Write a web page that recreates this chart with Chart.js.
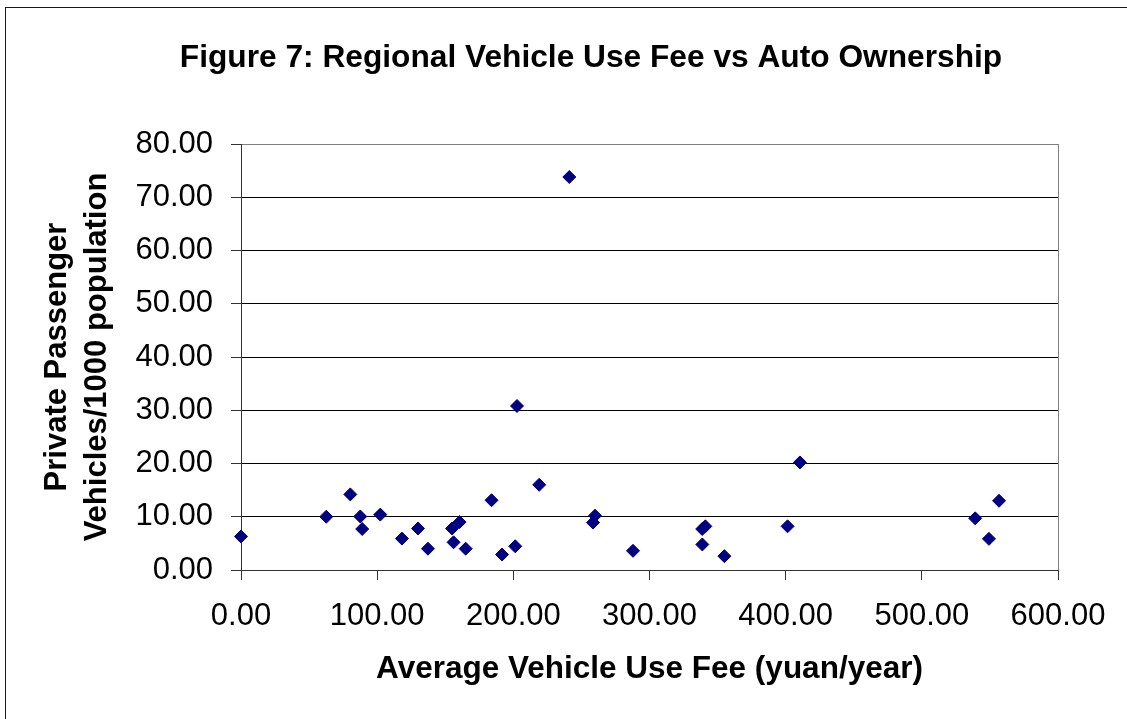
<!DOCTYPE html>
<html>
<head>
<meta charset="utf-8">
<script src="https://cdn.jsdelivr.net/npm/chart.js@4.4.1/dist/chart.umd.min.js"></script>
<style>
  html, body { margin: 0; padding: 0; background: #fff; }
  #c { display: block; }
</style>
</head>
<body>
<canvas id="c" width="1127" height="719"></canvas>
<script>
// ---- Data ----
const feeX = [0, 62.6, 80.3, 87.6, 89.0, 102.3, 118.2, 130, 137.3, 155, 160.5, 156.1, 165, 184, 191.7,
              202.7, 219, 201.4, 260, 258.5, 287.9, 338.7, 341, 338.8, 355, 401.4, 410.5, 539.2, 556.7, 549.3, 241.1];
const vehY = [6.3, 10.0, 14.2, 10.05, 7.7, 10.4, 5.9, 7.8, 4.0, 7.8, 9.0, 5.2, 4.0, 13.1, 2.9,
              30.8, 16.0, 4.45, 10.2, 8.9, 3.6, 7.7, 8.2, 4.8, 2.6, 8.2, 20.2, 9.7, 13.0, 5.85, 73.8];
const xTicks = [0, 100, 200, 300, 400, 500, 600];
const yTicks = [0, 10, 20, 30, 40, 50, 60, 70, 80];
const chartTitle = 'Figure 7: Regional Vehicle Use Fee vs Auto Ownership';
const xTitle = 'Average Vehicle Use Fee (yuan/year)';
const yTitle = ['Private Passenger', 'Vehicles/1000 population'];

const points = feeX.map((x, i) => ({ x: x, y: vehY[i] }));
const FONT = "'Liberation Sans', Arial, sans-serif";

const framePlugin = {
  id: 'frameAndTitle',
  beforeDraw(chart) {
    const ctx = chart.ctx;
    ctx.save();
    ctx.fillStyle = '#fff';
    ctx.fillRect(0, 0, chart.width, chart.height);
    ctx.strokeStyle = '#1a1a1a';
    ctx.lineWidth = 1;
    ctx.strokeRect(5.5, 7.5, 1400, 1000);
    ctx.restore();
  },
  afterDraw(chart) {
    const ctx = chart.ctx;
    ctx.save();
    ctx.fillStyle = '#000';
    ctx.font = 'bold 31.7px ' + FONT;
    ctx.textAlign = 'center';
    ctx.textBaseline = 'middle';
    ctx.fillText(chartTitle, 591, 58);
    ctx.restore();
  }
};

new Chart(document.getElementById('c'), {
  type: 'scatter',
  data: {
    datasets: [{
      data: points,
      pointStyle: 'rectRot',
      pointRadius: 6.5,
      pointHoverRadius: 6.5,
      backgroundColor: '#000080',
      borderColor: '#000080',
      borderWidth: 1,
      clip: false
    }]
  },
  options: {
    responsive: false,
    animation: false,
    events: [],
    layout: { padding: { top: 144, right: 69, left: 0, bottom: 0 } },
    plugins: { legend: { display: false }, tooltip: { enabled: false }, title: { display: false } },
    scales: {
      x: {
        type: 'linear',
        min: 0, max: 600,
        afterFit: s => { s.height = 149; },
        afterBuildTicks: s => { s.ticks = xTicks.map(v => ({ value: v })); },
        ticks: {
          color: '#000',
          font: { family: FONT, size: 31 },
          padding: 18,
          maxRotation: 0,
          callback: v => Number(v).toFixed(2)
        },
        grid: {
          color: c => (c.tick && c.tick.value === 600) ? '#808080' : 'rgba(0,0,0,0)',
          tickColor: '#333',
          tickLength: 10,
          lineWidth: 1
        },
        border: { color: '#333', width: 1 },
        title: {
          display: true,
          text: xTitle,
          color: '#000',
          font: { family: FONT, size: 31.5, weight: 'bold', lineHeight: '40px' },
          padding: { top: 0, bottom: 30 }
        }
      },
      y: {
        type: 'linear',
        min: 0, max: 80,
        afterFit: s => { s.width = 241; },
        afterBuildTicks: s => { s.ticks = yTicks.map(v => ({ value: v })); },
        ticks: {
          color: '#000',
          font: { family: FONT, size: 31 },
          padding: 18,
          callback: v => Number(v).toFixed(2)
        },
        grid: {
          color: c => (c.tick && c.tick.value === 80) ? '#808080' : '#000',
          tickColor: '#333',
          tickLength: 10,
          lineWidth: 1
        },
        border: { color: '#333', width: 1 },
        title: {
          display: true,
          text: yTitle,
          color: '#000',
          font: { family: FONT, size: 31, weight: 'bold', lineHeight: '40px' },
          padding: { top: 37, bottom: 0 }
        }
      }
    }
  },
  plugins: [framePlugin]
});
</script>
</body>
</html>
